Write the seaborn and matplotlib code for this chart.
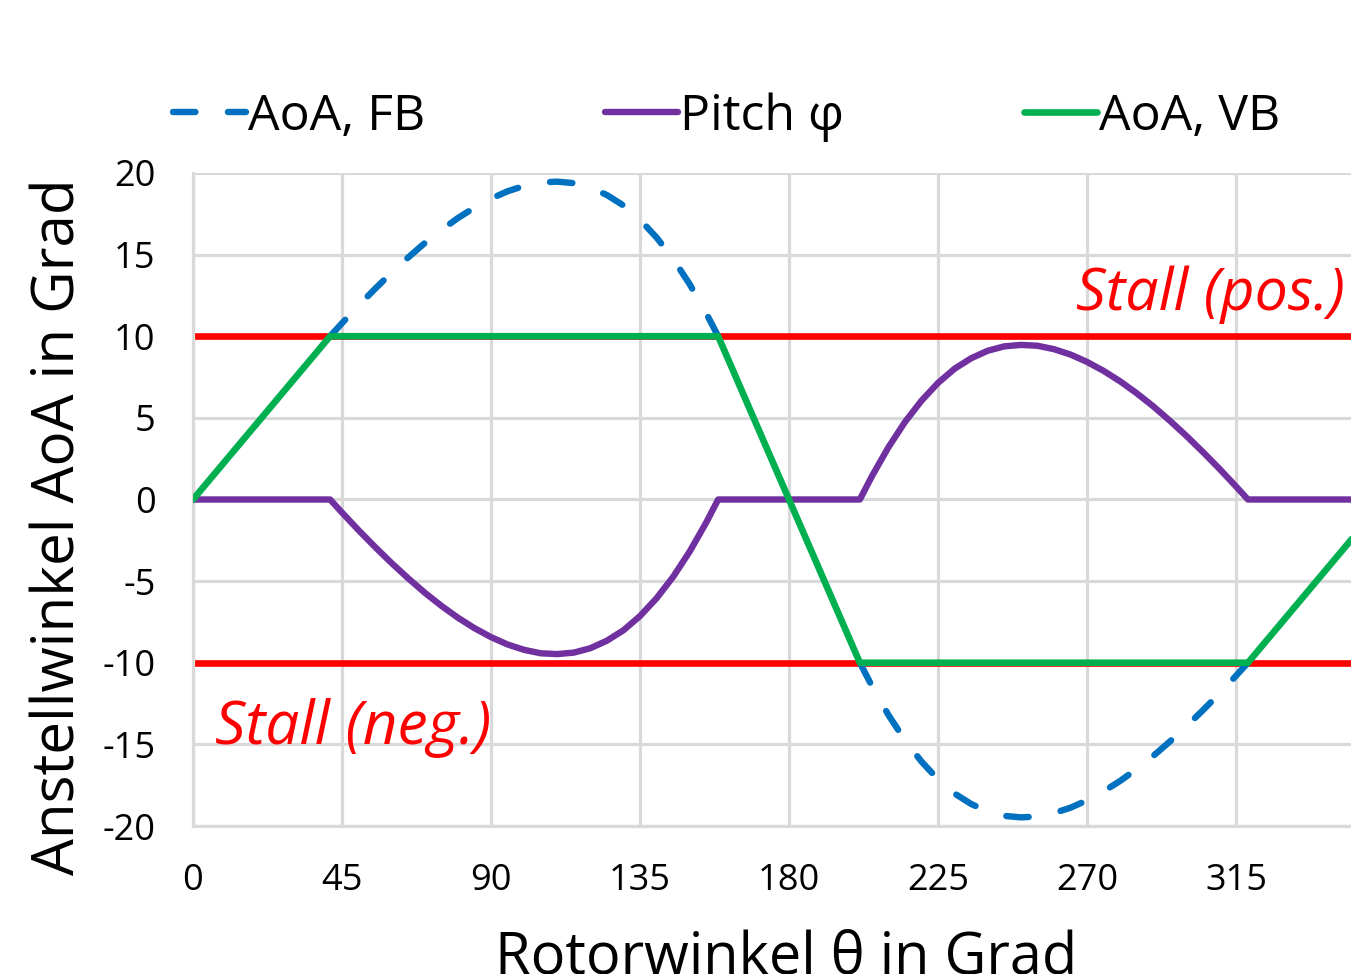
import matplotlib
matplotlib.use("Agg")
import matplotlib.pyplot as plt
import seaborn as sns
import pandas as pd

# ---------------- data ----------------
# AoA, FB (fixed blade) - only the parts outside the stall limits are visible
theta_fb_pos = [41.4, 45, 50, 55, 60, 65, 70, 75, 80, 85, 90, 95, 100, 105, 110,
                115, 120, 125, 130, 135, 140, 145, 150, 155, 158.6]
aoa_fb_pos = [10.0, 10.80, 11.88, 12.91, 13.90, 14.83, 15.71, 16.51, 17.24, 17.88,
              18.43, 18.88, 19.21, 19.42, 19.47, 19.38, 19.11, 18.65, 18.01, 17.14,
              16.05, 14.74, 13.19, 11.41, 10.0]
theta_fb_neg = [201.4, 205, 210, 215, 220, 225, 230, 235, 240, 245, 250, 255, 260,
                265, 270, 275, 280, 285, 290, 295, 300, 305, 310, 315, 318.6]
aoa_fb_neg = [-10.0, -11.41, -13.19, -14.74, -16.05, -17.14, -18.01, -18.65, -19.11,
              -19.38, -19.47, -19.42, -19.21, -18.88, -18.43, -17.88, -17.24, -16.51,
              -15.71, -14.83, -13.90, -12.91, -11.88, -10.80, -10.0]

theta_pitch = [0, 41.4, 45, 50, 55, 60, 65, 70, 75, 80, 85, 90, 95, 100, 105, 110,
               115, 120, 125, 130, 135, 140, 145, 150, 155, 158.6,
               201.4, 205, 210, 215, 220, 225, 230, 235, 240, 245, 250, 255, 260,
               265, 270, 275, 280, 285, 290, 295, 300, 305, 310, 315, 318.6, 360]
pitch = [0, 0, -0.80, -1.88, -2.91, -3.90, -4.83, -5.71, -6.51, -7.24, -7.88, -8.43,
         -8.88, -9.21, -9.42, -9.47, -9.38, -9.11, -8.65, -8.01, -7.14, -6.05, -4.74,
         -3.19, -1.41, 0,
         0, 1.41, 3.19, 4.74, 6.05, 7.14, 8.01, 8.65, 9.11, 9.38, 9.47, 9.42, 9.21,
         8.88, 8.43, 7.88, 7.24, 6.51, 5.71, 4.83, 3.90, 2.91, 1.88, 0.80, 0, 0]

theta_vb = [0, 41.4, 158.6, 201.4, 318.6, 360]
aoa_vb = [0, 10, 10, -10, -10, 0]

stall_levels = [10, -10]
stall_labels = ["Stall (pos.)", "Stall (neg.)"]

series_labels = ["AoA, FB", "Pitch \u03c6", "AoA, VB"]
xticks = [0, 45, 90, 135, 180, 225, 270, 315]
yticks = [-20, -15, -10, -5, 0, 5, 10, 15, 20]
xlabel = "Rotorwinkel \u03b8 in Grad"
ylabel = "Anstellwinkel AoA in Grad"

# ---------------- style ----------------
sns.set_theme(style="white")
plt.rcParams["font.family"] = ["Open Sans", "DejaVu Sans"]
plt.rcParams["text.color"] = "black"
plt.rcParams["axes.labelcolor"] = "black"

BLUE = "#0070C0"
PURPLE = "#7030A0"
GREEN = "#00B050"
RED = "#FF0000"
GRID = "#D9D9D9"

fig = plt.figure(figsize=(13.51, 9.74), dpi=100)
ax = fig.add_axes([193 / 1351, 148 / 974, 1192 / 1351, 653 / 974])

df_fb_pos = pd.DataFrame({"theta": theta_fb_pos, "aoa": aoa_fb_pos})
df_fb_neg = pd.DataFrame({"theta": theta_fb_neg, "aoa": aoa_fb_neg})
df_p = pd.DataFrame({"theta": theta_pitch, "pitch": pitch})
df_vb = pd.DataFrame({"theta": theta_vb, "aoa": aoa_vb})

for lvl in stall_levels:
    ax.axhline(lvl, color=RED, linewidth=4.8, zorder=2)

dash = (0, (3.5, 5.1))
sns.lineplot(data=df_fb_pos, x="theta", y="aoa", ax=ax, color=BLUE, linewidth=4.6,
             linestyle=dash, dash_capstyle="round",
             label=series_labels[0], estimator=None, sort=False, zorder=3)
sns.lineplot(data=df_fb_neg, x="theta", y="aoa", ax=ax, color=BLUE, linewidth=4.6,
             linestyle=dash, dash_capstyle="round",
             estimator=None, sort=False, zorder=3)
sns.lineplot(data=df_p, x="theta", y="pitch", ax=ax, color=PURPLE, linewidth=4.6,
             label=series_labels[1], estimator=None, sort=False, zorder=4)
sns.lineplot(data=df_vb, x="theta", y="aoa", ax=ax, color=GREEN, linewidth=4.8,
             label=series_labels[2], estimator=None, sort=False, zorder=5)

ax.set_xlim(0, 360)
ax.set_ylim(-20, 20)
ax.set_xticks(xticks + [360])
ax.set_yticks(yticks)
ax.set_xticklabels([str(t) for t in xticks] + [""])
ax.set_yticklabels([str(t) for t in yticks])
ax.tick_params(axis="both", length=0, labelsize=26, colors="black")
ax.tick_params(axis="y", pad=27)
ax.tick_params(axis="x", pad=27)

ax.grid(True, color=GRID, linewidth=2.3, zorder=0)
ax.set_axisbelow(True)
for side in ["top", "right"]:
    ax.spines[side].set_visible(False)
for side in ["left", "bottom"]:
    ax.spines[side].set_color(GRID)
    ax.spines[side].set_linewidth(2.3)

ax.set_xlabel(xlabel, fontsize=41.5, color="black")
ax.xaxis.label.set_va("top")
ax.xaxis.set_label_coords(0.498, -0.157)
ax.set_ylabel(ylabel, fontsize=42, color="black")
ax.yaxis.label.set_va("center")
ax.yaxis.set_label_coords(-0.112, 0.458)

ax.text(348, 11.6, stall_labels[0], color=RED, fontsize=42.5, style="italic",
        ha="right", va="baseline", zorder=6)
ax.text(6.6, -15.0, stall_labels[1], color=RED, fontsize=43.5, style="italic",
        ha="left", va="baseline", zorder=6)

handles, labels = ax.get_legend_handles_labels()
if ax.get_legend() is not None:
    ax.get_legend().remove()
leg = fig.legend(handles, labels, loc="center", bbox_to_anchor=(0.538, 0.880),
                 ncol=3, frameon=False, fontsize=36, handlelength=1.45,
                 handletextpad=0.05, columnspacing=3.6)
for t in leg.get_texts():
    t.set_color("black")

fig.savefig("out.png", dpi=100)
